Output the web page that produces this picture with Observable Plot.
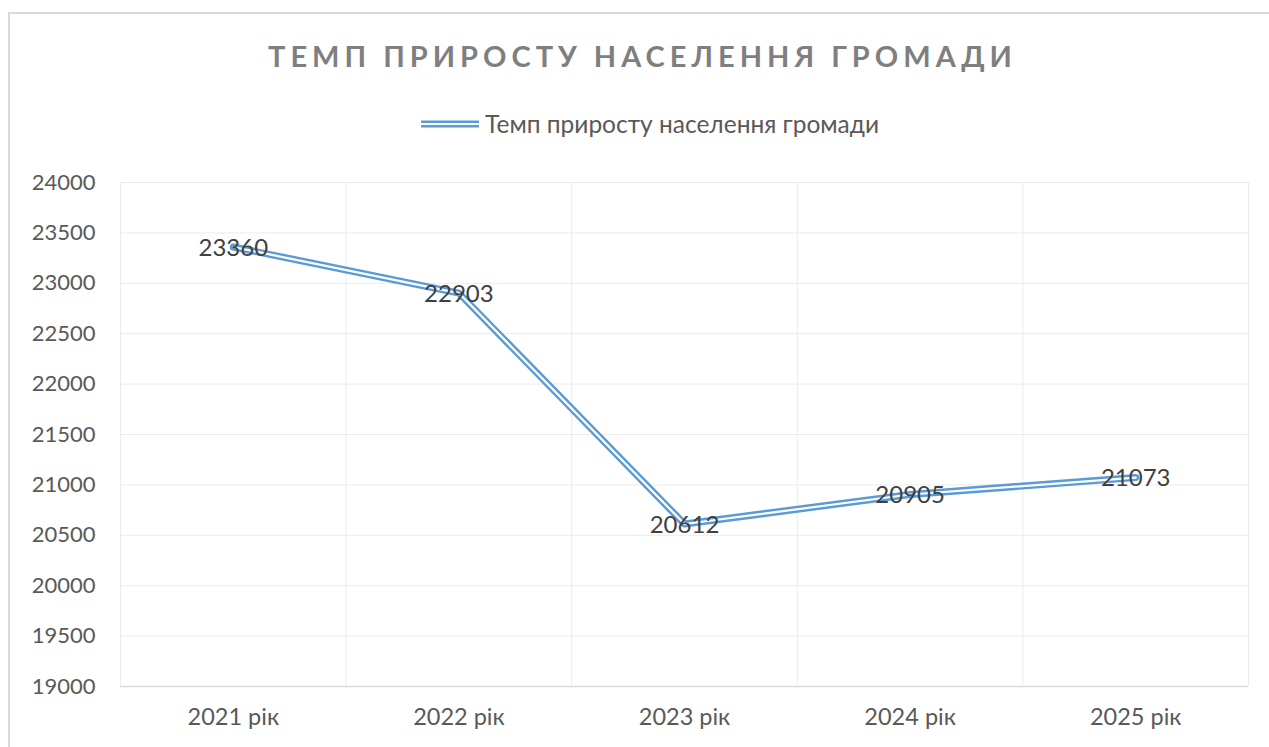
<!DOCTYPE html>
<html>
<head>
<meta charset="utf-8">
<script src="https://cdn.jsdelivr.net/npm/d3@7"></script>
<script src="https://cdn.jsdelivr.net/npm/@observablehq/plot@0.6"></script>
<style>
  html, body { margin: 0; padding: 0; background: #fff; overflow: hidden; }
  body { position: relative; width: 1269px; height: 747px; font-family: Lato, "Open Sans", sans-serif; }
  #frame { position: absolute; left: 8px; top: 12px; width: 1300px; height: 800px; border: 2px solid #d9d9d9; box-sizing: border-box; pointer-events: none; }
  #title { position: absolute; left: 0; top: 38px; width: 1269px; text-align: center; padding-left: 16px; box-sizing: border-box;
           font-size: 29px; font-weight: 700; letter-spacing: 5px; color: #7f7f7f; line-height: 36px; }
  #legend { position: absolute; left: 0; top: 109px; width: 1269px; display: flex; justify-content: center; align-items: center; padding-left: 31px; box-sizing: border-box;
            font-size: 24.5px; color: #595959; }
  #legend svg { margin-right: 6px; }
  #chart { position: absolute; left: 0; top: 0; }
</style>
</head>
<body>
<div id="chart"></div>
<div id="frame"></div>
<div id="title">ТЕМП ПРИРОСТУ НАСЕЛЕННЯ ГРОМАДИ</div>
<div id="legend"></div>
<script>
const seriesName = "Темп приросту населення громади";
const categories = ["2021 рік", "2022 рік", "2023 рік", "2024 рік", "2025 рік"];
const population = [23360, 22903, 20612, 20905, 21073];
const yTicks = [19000, 19500, 20000, 20500, 21000, 21500, 22000, 22500, 23000, 23500, 24000];

const blue = "#5b9bd5";
const data = categories.map((c, i) => ({ idx: i + 1, label: c, value: population[i] }));
const xBounds = d3.range(0.5, categories.length + 1, 1);

const plot = Plot.plot({
  width: 1269,
  height: 747,
  marginLeft: 120,
  marginRight: 21,
  marginTop: 182,
  marginBottom: 61,
  style: { fontFamily: "Lato, 'Open Sans', sans-serif", background: "transparent" },
  x: { type: "linear", domain: [0.5, categories.length + 0.5] },
  y: { domain: [19000, 24000] },
  marks: [
    Plot.ruleY(yTicks.slice(1), { stroke: "#ebebeb", strokeWidth: 1 }),
    Plot.ruleX(xBounds, { stroke: "#ebebeb", strokeWidth: 1 }),
    Plot.ruleY([19000], { stroke: "#d9d9d9", strokeWidth: 1.5 }),
    Plot.axisY({ ticks: yTicks, tickSize: 0, tickPadding: 25, fontSize: 22, fill: "#595959", label: null, tickFormat: d => String(d) }),
    Plot.axisX({ ticks: data.map(d => d.idx), tickSize: 0, tickPadding: 22, fontSize: 23.5, fill: "#595959", label: null, tickFormat: i => categories[i - 1] }),
    Plot.line(data, { x: "idx", y: "value", stroke: blue, strokeWidth: 7, strokeLinejoin: "round" }),
    Plot.line(data, { x: "idx", y: "value", stroke: "#ffffff", strokeWidth: 2.2, strokeLinejoin: "round" }),
    Plot.text(data, { x: "idx", y: "value", text: d => String(d.value), fontSize: 24, fill: "#404040", textAnchor: "middle", lineAnchor: "middle", dy: 1 })
  ]
});
document.getElementById("chart").appendChild(plot);

// legend
const leg = document.getElementById("legend");
const sw = d3.create("svg").attr("width", 58).attr("height", 10);
sw.append("line").attr("x1", 0).attr("x2", 58).attr("y1", 5).attr("y2", 5).attr("stroke", blue).attr("stroke-width", 7);
sw.append("line").attr("x1", 0).attr("x2", 58).attr("y1", 5).attr("y2", 5).attr("stroke", "#fff").attr("stroke-width", 2.2);
leg.appendChild(sw.node());
const lt = document.createElement("span");
lt.textContent = seriesName;
leg.appendChild(lt);
</script>
</body>
</html>
